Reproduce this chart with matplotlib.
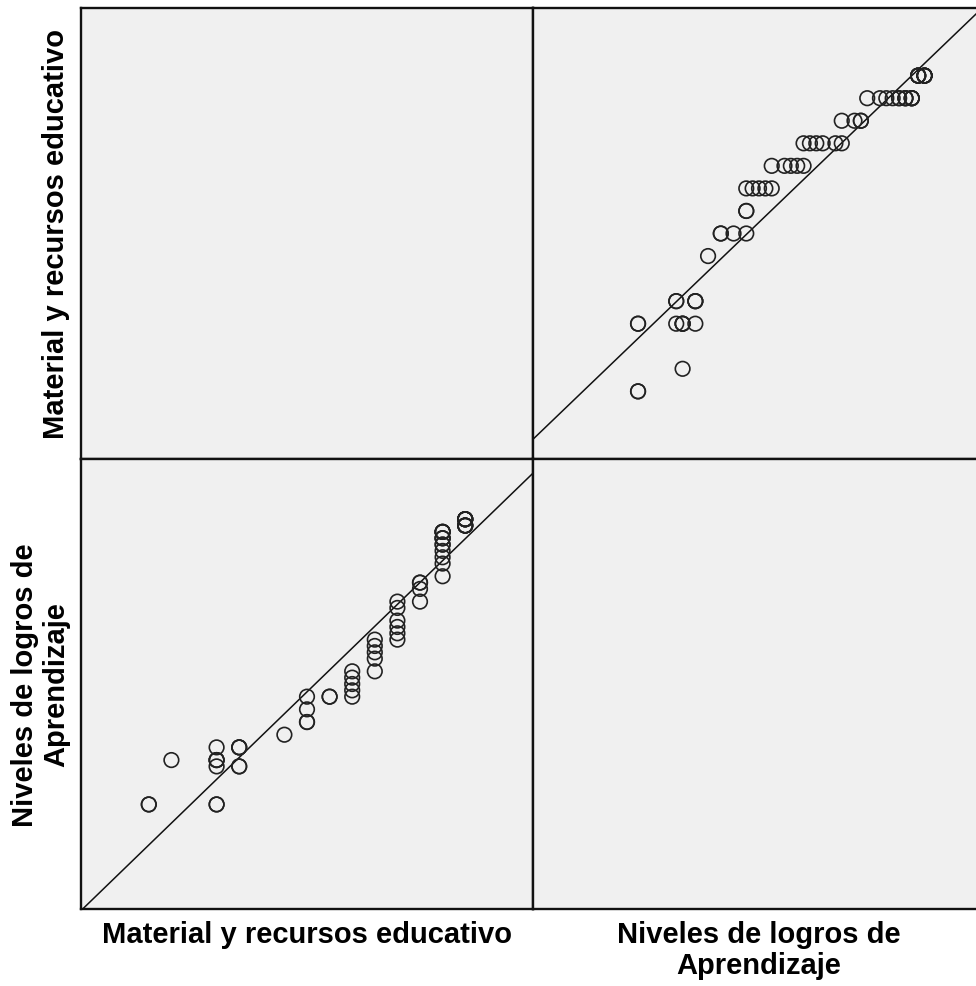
import numpy as np
import matplotlib.pyplot as plt

# Matrix of two variables (SPSS style scatterplot matrix)
var_names = ["Material y recursos educativo", "Niveles de logros de\nAprendizaje"]

# paired scores (one entry per case, overlapping cases repeated)
material = [15, 15,
            16,
            18, 18, 18, 18, 18, 18, 18,
            19, 19, 19, 19, 19,
            21,
            22, 22, 22, 22,
            23, 23,
            24, 24, 24, 24, 24,
            25, 25, 25, 25, 25,
            26, 26, 26, 26, 26, 26,
            27, 27, 27, 27,
            28, 28, 28, 28, 28, 28, 28, 28, 28, 28, 28, 28, 28,
            29, 29, 29, 29, 29, 29, 29, 29, 29, 29, 29]
niveles = [20, 20,
           27,
           20, 20, 26, 27, 27, 27, 29,
           26, 26, 29, 29, 29,
           31,
           33, 33, 35, 37,
           37, 37,
           37, 38, 39, 40, 41,
           41, 43, 44, 45, 46,
           46, 47, 48, 49, 51, 52,
           52, 54, 55, 55,
           56, 58, 59, 60, 61, 61, 62, 62, 62, 63, 63, 63, 63,
           64, 64, 64, 64, 64, 65, 65, 65, 65, 65, 65]

limits = [(12, 32), (3.5, 74.5)]

data = [np.array(material, dtype=float), np.array(niveles, dtype=float)]

W, H = 976, 987
fig = plt.figure(figsize=(W / 100, H / 100), dpi=100)
fig.patch.set_facecolor("white")

plt.rcParams['font.family'] = ['Liberation Sans', 'DejaVu Sans']

xs = [81, 533]          # left edges in px
ys = [9, 460]           # top edges in px
pw, ph = [452, 452], [451, 450]

for row in range(2):
    for col in range(2):
        left = xs[col] / W
        bottom = 1 - (ys[row] + ph[row]) / H
        ax = fig.add_axes([left, bottom, pw[col] / W, ph[row] / H])
        ax.set_facecolor("#f0f0f0")
        ax.set_xlim(limits[col])
        ax.set_ylim(limits[row])
        ax.set_xticks([])
        ax.set_yticks([])
        for s in ax.spines.values():
            s.set_linewidth(1.7)
            s.set_color("#111111")
        if row != col:
            x = data[col]
            y = data[row]
            ax.scatter(x, y, s=110, facecolors="none", edgecolors="#222222",
                       linewidths=1.2, zorder=3)
            k, b = np.polyfit(x, y, 1)
            lx = np.array(limits[col])
            ax.plot(lx, k * lx + b, color="#111111", lw=1.1, zorder=2)
        if col == 0:
            ax.set_ylabel(var_names[row], fontsize=21, fontweight="bold",
                          labelpad=8, linespacing=1.15)
        if row == 1:
            ax.set_xlabel(var_names[col], fontsize=21, fontweight="bold",
                          labelpad=8, linespacing=1.15)

fig.savefig("out.png", dpi=100)
